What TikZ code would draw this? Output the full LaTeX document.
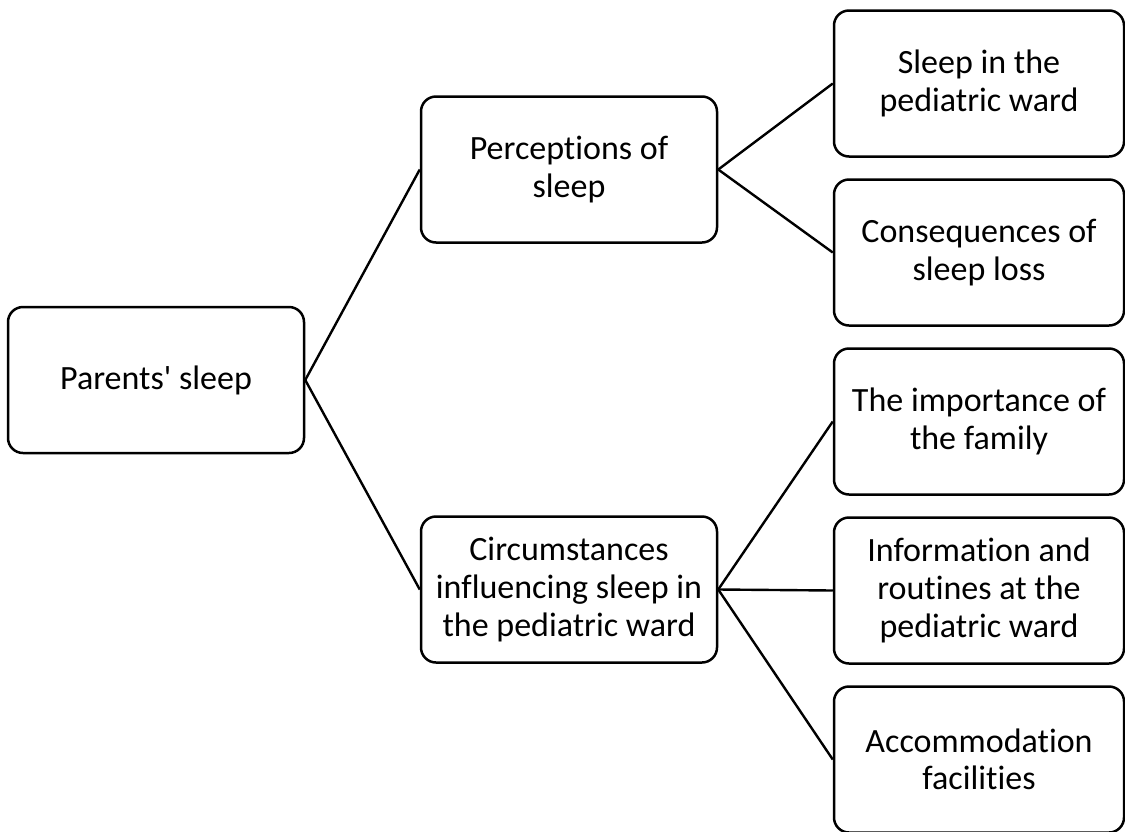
\documentclass[tikz,border=0pt]{standalone}
\usepackage{fontspec}
\newfontfamily\boxfont{Carlito}[Ligatures=NoCommon]
\usetikzlibrary{positioning}
\tikzset{
  theme/.style={draw,line width=1.25pt,rounded corners=7.5pt,align=center,
                inner sep=0pt,minimum width=148pt,minimum height=73pt,
                font=\boxfont\fontsize{17}{18.8}\selectfont},
  subtheme/.style={theme,minimum width=145pt},
  branch/.style={line width=1.2pt}}

\begin{document}
\begin{tikzpicture}[x=0.5pt,y=-0.5pt]
  \useasboundingbox (0,0) rectangle (1125,831);
  \def\xa{156}  % main column
  \def\xb{569}  % theme column
  \def\xc{979}  % subtheme column

  % NODES
  \node[theme] (parents) at (\xa,380) {Parents' sleep};
  \node[theme] (percep) at (\xb,169.5) {Perceptions of\\sleep};
  \node[theme] (circ) at (\xb,589.5) {Circumstances\\influencing sleep in\\the pediatric ward};
  \node[subtheme] (ward) at (\xc,83.5) {Sleep in the\\pediatric ward};
  \node[subtheme] (loss) at (\xc,252.5) {Consequences of\\sleep loss};
  \node[subtheme] (family) at (\xc,421.5) {The importance of\\the family};
  \node[subtheme] (info) at (\xc,590.5) {Information and\\routines at the\\pediatric ward};
  \node[subtheme] (accom) at (\xc,759.5) {Accommodation\\facilities};

  % LINES
  \draw[branch] (parents.east) -- (percep.west);
  \draw[branch] (parents.east) -- (circ.west);
  \draw[branch] (percep.east) -- (ward.west);
  \draw[branch] (percep.east) -- (loss.west);
  \draw[branch] (circ.east) -- (family.west);
  \draw[branch] (circ.east) -- (info.west);
  \draw[branch] (circ.east) -- (accom.west);
\end{tikzpicture}
\end{document}
